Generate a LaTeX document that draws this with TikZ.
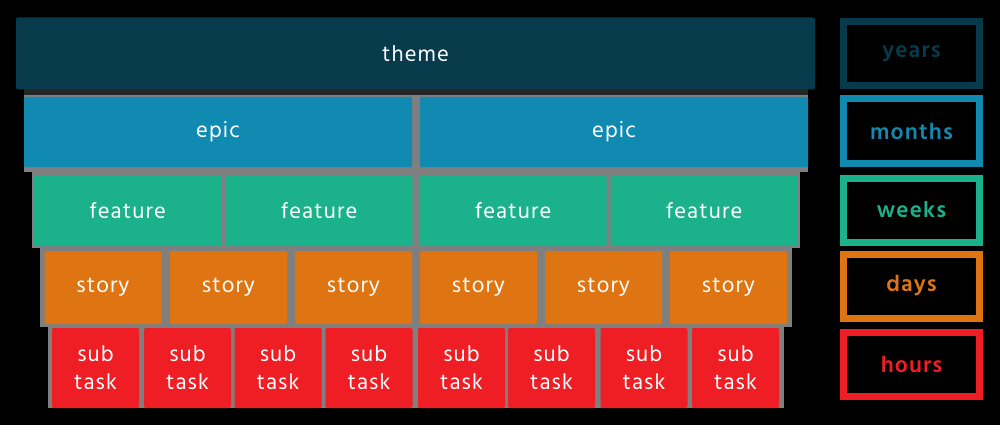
\documentclass[tikz,border=0pt]{standalone}
\usepackage{fontspec}
\setmainfont{Hind Madurai}[LetterSpace=5]

\definecolor{themecol}{HTML}{073B4C}
\definecolor{epiccol}{HTML}{118AB2}
\definecolor{featcol}{HTML}{1BB28B}
\definecolor{storycol}{HTML}{DE7512}
\definecolor{taskcol}{HTML}{EE1E24}
\definecolor{backcol}{HTML}{7F7F7F}

\tikzset{
  block/.style={rounded corners=2pt, inner sep=0pt, text=white,
    font=\fontsize{22.5}{28}\selectfont, align=center},
  themebox/.style={block, fill=themecol, minimum width=799pt, minimum height=72pt},
  epicbox/.style={block, fill=epiccol, minimum width=388pt, minimum height=70pt},
  featbox/.style={block, fill=featcol, minimum width=187pt, minimum height=71pt},
  storybox/.style={block, fill=storycol, minimum width=117pt, minimum height=73pt},
  taskbox/.style={block, fill=taskcol, minimum width=87pt, minimum height=80pt},
  scalebox/.style={draw=#1, line width=7pt, text=#1, inner sep=0pt,
    minimum width=136pt, minimum height=64pt,
    font=\fontsize{23}{26}\selectfont\bfseries}
}

\begin{document}
\begin{tikzpicture}[x=1pt, y=-1pt]

  \fill[black] (0,0) rectangle (1000,425);
  \useasboundingbox (0,0) rectangle (1000,425);

  % grey backing behind each level
  \fill[backcol] (24,87) rectangle (808,172);
  \fill[black!85!white] (24,87) rectangle (808,95);
  \fill[backcol] (32,167) rectangle (800,248);
  \fill[backcol] (40,247) rectangle (792,327);
  \fill[backcol] (48,327) rectangle (784,408);

  \node[themebox] (theme) at (415.5,53.5) {theme};

  \node[epicbox] (epic1) at (218,132) {epic};
  \node[epicbox] (epic2) at (614,132) {epic};

  \node[featbox] (feat1) at (127.5,210.5) {feature};
  \node[featbox] (feat2) at (319,210.5) {feature};
  \node[featbox] (feat3) at (513,210.5) {feature};
  \node[featbox] (feat4) at (704,210.5) {feature};

  \foreach \i/\x in {1/103,2/228.5,3/353.5,4/478.5,5/603.5,6/728.5}
    \node[storybox] (story\i) at (\x,287.5) {story};

  \foreach \i/\x in {1/95.5,2/187.5,3/278,4/369,5/461.5,6/551.5,7/644,8/735.5}
    \node[taskbox] (task\i) at (\x,368) {sub\\task};

  % time scale column
  \node[scalebox=themecol] (years) at (911.5,53.5) {years};
  \node[scalebox=epiccol] (months) at (911.5,131) {months};
  \node[scalebox=featcol] (weeks) at (911.5,210) {weeks};
  \node[scalebox=storycol] (days) at (911.5,286) {days};
  \node[scalebox=taskcol] (hours) at (911.5,364.5) {hours};

\end{tikzpicture}
\end{document}
